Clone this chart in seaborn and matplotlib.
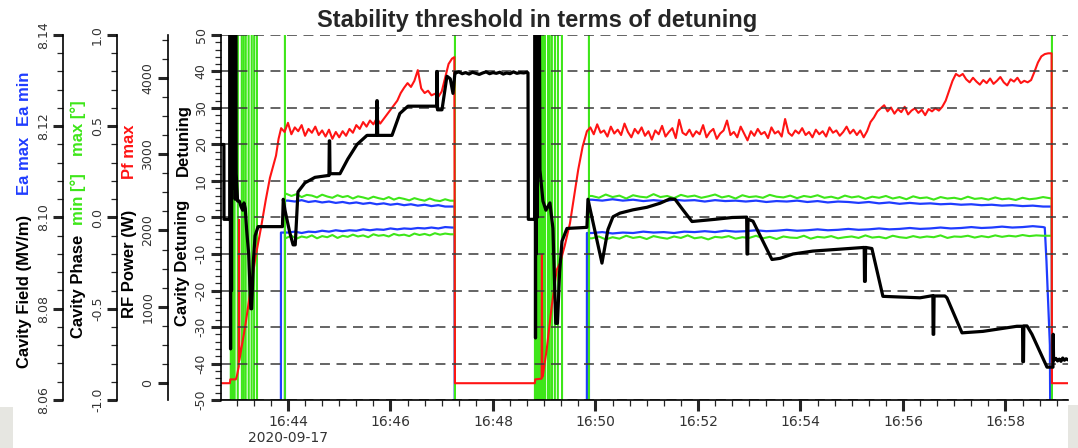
import numpy as np
import pandas as pd
import matplotlib
matplotlib.use('Agg')
import matplotlib.pyplot as plt
import matplotlib.dates as mdates
from matplotlib.ticker import MultipleLocator, FormatStrFormatter, FuncFormatter
from matplotlib.patches import Rectangle
import seaborn as sns

sns.set_style('ticks')
plt.rcParams['font.family'] = ['DejaVu Sans']
plt.rcParams['axes.unicode_minus'] = False

# all times are seconds after 16:40:00 on the day of the run
t_base = pd.Timestamp('2020-09-17 16:40:00')
t_start, t_end = 161.6, 1153.2

# ---------------- Cavity detuning (black) ----------------
det_t1 = [161.6, 165, 165.1, 172, 172.3, 172.8, 173.3, 173.9, 174.4, 175.0, 175.5, 176.1, 176.6,
          177.2, 177.7, 178.3, 178.8, 179.4, 181, 183, 185, 187, 188.5, 190, 191.5, 194, 196.5,
          197.5, 199.5, 201.5, 205, 233.5, 234.5, 236.5, 242, 246, 248.5, 251.7, 259.9, 271.6,
          286.8, 288, 288.4, 288.8, 289.2, 300.9, 310, 320.8, 332.5, 343.7, 344.1, 344.5, 345,
          361.8, 371, 380.5, 414, 414.3, 414.7, 415.1, 420.3, 426.1, 430, 433.2, 435.5]
det_v1 = [20, 20, -0.5, -0.5, 60, -36, 60, -20, 60, 10, 60, 15, 60,
          8, 60, 5, 60, 12, 4.5, 4.5, 3, 2, 4, 2.5, -3, -10, -25,
          -25, -12, -5, -2.5, -2.5, 5, 2, -4, -7.5, -7.5, 7, 9.5, 11,
          11.5, 11.5, 21, 21, 12, 12, 16, 20, 22.5, 22.5, 32, 32, 22.5,
          22.5, 28.5, 30.5, 30.5, 40, 40, 29.5, 29.5, 38.7, 38, 34, 39.7]
# plateau between the two runs, every 4 s from 436 s
det_top = [39.6, 39.9, 39.4, 39.7, 39.3, 39.8, 39.5, 39.2, 39.6, 39.9, 39.4,
           39.7, 39.5, 39.8, 39.3, 39.6, 39.4, 39.9, 39.5, 39.7, 39.6, 39.8]
det_t2 = [521, 521.4, 529, 529.4, 529.8, 530.2, 530.7, 531.2, 531.7, 532.2, 532.7, 533.2, 533.7,
          534.3, 535, 538.5, 542, 546.7, 550.2, 553.5, 555.5, 558, 560.8, 566.6, 590, 591.2,
          607.6, 614.6, 620.5, 628.7, 643.9, 660.3, 675.5, 687.2, 693.1, 702.4, 713, 740, 760,
          777, 777.4, 778.2, 778.6, 784.4, 806.6, 816, 831.2, 854.6, 878, 913.1, 914.6, 915,
          915.8, 916.3, 923.6, 936.5, 960, 980, 995, 995.3, 996, 996.4, 1009.1, 1011.5, 1029.1,
          1053.6, 1073.5, 1093.4, 1100, 1100.3, 1101.1, 1101.5, 1105.2, 1111, 1128.6, 1135.6,
          1135.9, 1136.3]
det_v2 = [39.6, -0.5, -0.5, 60, -33, 60, -10, 60, 0, 60, 20, 60, 13,
          60, 13, 4.5, 2, 4, -3, -29, -29, -15, -6.5, -3, -2.7, 5,
          -12.5, -3.3, 0.2, 1.2, 2.1, 2.8, 3.9, 5.1, 5.0, 2.1, -1.1, -0.5, 0,
          0.1, -10, -10, -0.5, -1, -11.5, -11.2, -10, -9.2, -8.8, -8.2, -8.2, -17.5,
          -17.5, -8.2, -8.5, -21.6, -21.8, -22, -21.4, -32, -32, -21.5, -21.5, -22, -31.6,
          -31.2, -30.5, -29.8, -29.8, -39.5, -39.5, -29.7, -29.7, -32, -41, -41,
          -32, -39]
# tail, every 2 s from 1137 s
det_end = [-39.0, -38.6, -39.3, -38.8, -39.4, -38.5, -39.1, -38.7, -39.0]

# ---------------- Forward power Pf max (red, W) ----------------
pf_t1 = [161.6, 172, 172.5, 179, 180.3, 182.4, 182.7, 183.1, 190, 196.7, 202, 208.4, 214,
         218.9, 226, 229]
pf_v1 = [0, 0, 50, 50, 100, 220, 2140, 300, 750, 1260, 1650, 2035, 2400,
         2690, 2980, 3200]
# first run, every 4 s from 232 s
pf_run1 = [3340, 3290, 3410, 3260, 3350, 3300, 3380, 3240, 3330, 3280,
           3360, 3250, 3310, 3230, 3320, 3200, 3290, 3220, 3300, 3240,
           3330, 3280, 3380, 3330, 3420, 3360, 3440, 3390, 3470, 3400,
           3460, 3520, 3580, 3640, 3700, 3800, 3870, 3930, 3880, 3960,
           4100, 3860, 3800, 3830, 3770, 3790, 3750, 3820, 4000, 4180,
           4250]
pf_t2 = [434.8, 435.5, 529, 529.5, 537, 537.3, 537.7, 538.5, 543, 548.7, 554.6, 558.4, 564,
         570.1, 575, 579.8, 585]
pf_v2 = [4270, 0, 0, 50, 60, 1685, 80, 106, 450, 1001, 1484, 1570, 1800,
         2092, 2450, 2796, 3100]
# second run, every 4 s from 590 s
pf_run2 = [3300, 3350, 3260, 3390, 3280, 3310, 3230, 3360, 3270, 3320,
           3250, 3400, 3290, 3220, 3330, 3270, 3350, 3240, 3300, 3190,
           3310, 3260, 3370, 3230, 3290, 3340, 3210, 3450, 3280, 3250,
           3320, 3230, 3300, 3260, 3380, 3220, 3290, 3330, 3200, 3270,
           3310, 3440, 3250, 3290, 3220, 3360, 3270, 3180, 3300, 3240,
           3330, 3260, 3290, 3210, 3350, 3270, 3300, 3230, 3460, 3280,
           3240, 3310, 3270, 3340, 3250, 3290, 3220, 3320, 3260, 3300,
           3230, 3350, 3280, 3310, 3240, 3290, 3360, 3270, 3320, 3250,
           3310, 3220, 3300, 3420, 3480, 3560, 3600, 3640, 3560, 3610,
           3530, 3590, 3550, 3620, 3520, 3570, 3600, 3540, 3580, 3510,
           3590, 3560, 3600, 3570, 3620, 3700, 3830, 3960, 4050, 4020,
           4050, 3980, 3940, 4000, 3950, 3910, 3970, 3930, 3990, 3920,
           3960, 4010, 3940, 3900, 3980, 3950, 4000, 3930, 3960, 3940,
           3970, 4080, 4200, 4280, 4310, 4320, 4320]
pf_t3 = [1134.4, 1153.2]
pf_v3 = [0, 0]

# ---------------- Cavity field Ea max / Ea min (blue, MV/m) ----------------
# 8.0 = below the scale (field off)
ea_max_run1 = [8.1037, 8.1035, 8.1038, 8.1034, 8.1036, 8.1033, 8.1035, 8.1032, 8.1034, 8.1031,
               8.1033, 8.1030, 8.1032, 8.1029, 8.1031, 8.1028, 8.1030, 8.1027, 8.1029, 8.1026,
               8.1028, 8.1025, 8.1027, 8.1024, 8.1024]
ea_min_run1 = [8.0967, 8.0969, 8.0966, 8.0969, 8.0968, 8.0971, 8.0969, 8.0972, 8.0970, 8.0972,
               8.0971, 8.0974, 8.0972, 8.0974, 8.0973, 8.0976, 8.0974, 8.0976, 8.0975, 8.0977,
               8.0976, 8.0978, 8.0976, 8.0979, 8.0978]
ea_max_run2 = [8.1039, 8.1037, 8.1040, 8.1037, 8.1039, 8.1036, 8.1038, 8.1036, 8.1039, 8.1037,
               8.1038, 8.1035, 8.1038, 8.1036, 8.1037, 8.1035, 8.1037, 8.1034, 8.1036, 8.1035,
               8.1037, 8.1034, 8.1036, 8.1033, 8.1035, 8.1034, 8.1032, 8.1034, 8.1031, 8.1033,
               8.1030, 8.1032, 8.1030, 8.1031, 8.1029, 8.1030, 8.1028, 8.1029, 8.1027, 8.1028,
               8.1026, 8.1027, 8.1025, 8.1026, 8.1024]
ea_min_run2 = [8.0966, 8.0968, 8.0965, 8.0967, 8.0966, 8.0969, 8.0967, 8.0968, 8.0966, 8.0969,
               8.0968, 8.0970, 8.0968, 8.0971, 8.0969, 8.0970, 8.0972, 8.0970, 8.0971, 8.0973,
               8.0971, 8.0972, 8.0974, 8.0972, 8.0973, 8.0975, 8.0973, 8.0974, 8.0976, 8.0974,
               8.0975, 8.0977, 8.0975, 8.0976, 8.0978, 8.0976, 8.0977, 8.0979, 8.0977, 8.0978,
               8.0980, 8.0978, 8.0979, 8.0981, 8.0979]
ea_max_edges_t = [[161.6, 236.4, 236.5], [435.3, 435.6, 592.3, 592.4], [1134.2, 1134.5, 1153.2]]
ea_max_edges_v = [[8.0, 8.0, 8.1037], [8.1024, 8.0, 8.0, 8.1039], [8.1024, 8.0, 8.0]]
ea_min_edges_t = [[161.6, 231.7, 231.8], [435.3, 435.6, 589.9, 590.0], [1126, 1128, 1132, 1133.8, 1153.2]]
ea_min_edges_v = [[8.0, 8.0, 8.0967], [8.0978, 8.0, 8.0, 8.0966], [8.0978, 8.0904, 8.072, 8.0, 8.0]]

# ---------------- Cavity phase min / max (green, deg) ----------------
# +/-1.5 = off the scale (the phase swings while the loop locks)
ph_max_pre_t = [161.6, 172.9, 173.1, 174.9, 175.1, 177.4, 177.6, 181.2, 181.4, 185.9, 186.1, 190.4,
                190.6, 193.9, 194.1, 197.4, 197.6, 203.6, 203.8, 236.4, 236.5]
ph_max_pre_v = [1.5, 1.5, -1.5, -1.5, 1.5, 1.5, -1.5, -1.5, 1.5, 1.5, -1.5, -1.5,
                1.5, 1.5, -1.5, -1.5, 1.5, 1.5, -1.5, -1.5, 0.125]
ph_min_pre_t = [161.6, 176.1, 176.3, 188.1, 188.3, 200.3, 200.5, 236.4, 236.5]
ph_min_pre_v = [-1.5, -1.5, 1.5, 1.5, -1.5, -1.5, 1.5, 1.5, -0.112]
ph_max_run1 = [0.130, 0.118, 0.128, 0.112, 0.124, 0.120, 0.110, 0.125, 0.115, 0.108, 0.122,
               0.112, 0.118, 0.104, 0.116, 0.110, 0.102, 0.114, 0.106, 0.100, 0.112, 0.098,
               0.108, 0.102, 0.094, 0.106, 0.098, 0.092, 0.104, 0.094, 0.090, 0.100, 0.092]
ph_min_run1 = [-0.112, -0.100, -0.116, -0.104, -0.110, -0.098, -0.114, -0.102, -0.108, -0.096, -0.112,
               -0.100, -0.106, -0.094, -0.104, -0.098, -0.108, -0.092, -0.100, -0.096, -0.104, -0.090,
               -0.098, -0.094, -0.102, -0.088, -0.096, -0.090, -0.098, -0.086, -0.094, -0.088, -0.092]
ph_max_mid_t = [435.3, 435.6, 529.1, 529.3, 530.7, 530.9, 532.3, 532.5, 533.9, 534.1, 535.5, 535.7,
                537.1, 537.3, 538.7, 538.9, 540.8, 541.0, 544.3, 544.5, 548.9, 549.1, 552.4, 552.6,
                560.7, 560.9, 592.3, 592.4]
ph_max_mid_v = [0.092, -1.5, -1.5, 1.5, 1.5, -1.5, -1.5, 1.5, 1.5, -1.5, -1.5, 1.5,
                1.5, -1.5, -1.5, 1.5, 1.5, -1.5, -1.5, 1.5, 1.5, -1.5, -1.5, 1.5,
                1.5, -1.5, -1.5, 0.118]
ph_min_mid_t = [435.3, 435.6, 531.5, 531.7, 536.3, 536.5, 546.4, 546.6, 555.9, 556.1, 592.3, 592.4]
ph_min_mid_v = [-0.092, 1.5, 1.5, -1.5, -1.5, 1.5, 1.5, -1.5, -1.5, 1.5, 1.5, -0.114]
ph_max_run2 = [0.118, 0.108, 0.126, 0.112, 0.120, 0.104, 0.122, 0.114, 0.110, 0.128,
               0.112, 0.118, 0.106, 0.124, 0.114, 0.120, 0.108, 0.116, 0.126, 0.110,
               0.118, 0.104, 0.122, 0.112, 0.116, 0.108, 0.124, 0.114, 0.110, 0.120,
               0.106, 0.118, 0.112, 0.122, 0.108, 0.114, 0.104, 0.120, 0.110, 0.116,
               0.102, 0.114, 0.108, 0.118, 0.104, 0.112, 0.100, 0.116, 0.106, 0.110,
               0.098, 0.112, 0.104, 0.108, 0.100, 0.114, 0.102, 0.106, 0.098, 0.110,
               0.100, 0.104, 0.096, 0.108, 0.100, 0.104, 0.112]
ph_min_run2 = [-0.114, -0.104, -0.120, -0.108, -0.116, -0.100, -0.112, -0.106, -0.118, -0.102,
               -0.110, -0.116, -0.104, -0.112, -0.098, -0.114, -0.108, -0.120, -0.106, -0.110,
               -0.102, -0.116, -0.108, -0.112, -0.100, -0.114, -0.106, -0.118, -0.104, -0.110,
               -0.112, -0.100, -0.116, -0.106, -0.110, -0.102, -0.114, -0.108, -0.104, -0.112,
               -0.098, -0.110, -0.106, -0.114, -0.100, -0.108, -0.112, -0.102, -0.110, -0.104,
               -0.108, -0.098, -0.112, -0.104, -0.106, -0.100, -0.110, -0.102, -0.108, -0.098,
               -0.106, -0.100, -0.104, -0.096, -0.102, -0.098, -0.100]
ph_max_end_t = [1134.2, 1134.5, 1153.2]
ph_max_end_v = [0.104, -1.5, -1.5]
ph_min_end_t = [1134.2, 1134.5, 1153.2]
ph_min_end_v = [-0.100, 1.5, 1.5]


def sampled(t0, step, vals):
    # time stamps of a regularly sampled stretch of the archive
    return [t0 + i * step for i in range(len(vals))]


def to_num(sec):
    return mdates.date2num(t_base + pd.to_timedelta(np.asarray(sec, dtype=float), unit='s'))


det_t = det_t1 + sampled(436, 4, det_top) + det_t2 + sampled(1137, 2, det_end)
det_v = det_v1 + det_top + det_v2 + det_end
pf_t = pf_t1 + sampled(232, 4, pf_run1) + pf_t2 + sampled(590, 4, pf_run2) + pf_t3
pf_v = pf_v1 + pf_run1 + pf_v2 + pf_run2 + pf_v3
ea_max_t = (ea_max_edges_t[0] + sampled(240, 8, ea_max_run1) + ea_max_edges_t[1]
            + sampled(596, 12, ea_max_run2) + ea_max_edges_t[2])
ea_max_v = ea_max_edges_v[0] + ea_max_run1 + ea_max_edges_v[1] + ea_max_run2 + ea_max_edges_v[2]
ea_min_t = (ea_min_edges_t[0] + sampled(240, 8, ea_min_run1) + ea_min_edges_t[1]
            + sampled(596, 12, ea_min_run2) + ea_min_edges_t[2])
ea_min_v = ea_min_edges_v[0] + ea_min_run1 + ea_min_edges_v[1] + ea_min_run2 + ea_min_edges_v[2]
ph_max_t = ph_max_pre_t + sampled(238, 6, ph_max_run1) + ph_max_mid_t + sampled(596, 8, ph_max_run2) + ph_max_end_t
ph_max_v = ph_max_pre_v + ph_max_run1 + ph_max_mid_v + ph_max_run2 + ph_max_end_v
ph_min_t = ph_min_pre_t + sampled(238, 6, ph_min_run1) + ph_min_mid_t + sampled(596, 8, ph_min_run2) + ph_min_end_t
ph_min_v = ph_min_pre_v + ph_min_run1 + ph_min_mid_v + ph_min_run2 + ph_min_end_v

BLACK, RED, BLUE, GREEN = '#000000', '#ff1414', '#1f3cff', '#3ee619'
LABEL_FONT = dict(family=['Liberation Sans', 'DejaVu Sans'], fontsize=12, fontweight='bold')

W, H = 1078, 448
fig = plt.figure(figsize=(W / 100, H / 100), dpi=100)
fig.patch.set_facecolor('white')
ax = fig.add_axes([221 / W, 48 / H, 847 / W, 365 / H])   # detuning, carries the time axis
ax_ph = ax.twinx()
ax_ea = ax.twinx()
ax_pf = ax.twinx()

# stacking: field at the bottom, then phase, power, detuning on top
for a, z in [(ax_ea, 0), (ax_ph, 1), (ax_pf, 2), (ax, 3)]:
    a.set_zorder(z)
    a.patch.set_visible(False)

sns.lineplot(x=to_num(ph_max_t), y=ph_max_v, ax=ax_ph, color=GREEN, linewidth=1.5, estimator=None, sort=False)
sns.lineplot(x=to_num(ph_min_t), y=ph_min_v, ax=ax_ph, color=GREEN, linewidth=1.5, estimator=None, sort=False)
sns.lineplot(x=to_num(ea_max_t), y=ea_max_v, ax=ax_ea, color=BLUE, linewidth=1.6, estimator=None, sort=False)
sns.lineplot(x=to_num(ea_min_t), y=ea_min_v, ax=ax_ea, color=BLUE, linewidth=1.6, estimator=None, sort=False)
sns.lineplot(x=to_num(pf_t), y=pf_v, ax=ax_pf, color=RED, linewidth=1.5, estimator=None, sort=False)
sns.lineplot(x=to_num(det_t), y=det_v, ax=ax, color=BLACK, linewidth=2.3, estimator=None, sort=False)

ax.set_xlim(to_num([t_start, t_end]))
ax.set_ylim(-50, 50)
ax_ph.set_ylim(-1.0, 1.0)
ax_ea.set_ylim(8.06, 8.14)
ax_pf.set_ylim(-220, 4560)

# y axes all on the left, stepped outwards
axis_specs = [
    (ax, 0.0, 10, 2, '%d'),
    (ax_pf, -0.0629, 1000, 250, '%d'),
    (ax_ph, -0.1224, 0.5, 0.1, '%.1f'),
    (ax_ea, -0.1862, 0.02, 0.004, '%.2f'),
]
for a, pos, major, minor, fmt in axis_specs:
    for s in a.spines.values():
        s.set_visible(False)
    a.spines['left'].set_visible(True)
    a.spines['left'].set_position(('axes', pos))
    a.spines['left'].set_linewidth(1.2)
    a.spines['left'].set_color('black')
    a.yaxis.set_ticks_position('left')
    a.yaxis.set_major_locator(MultipleLocator(major))
    a.yaxis.set_minor_locator(MultipleLocator(minor))
    a.yaxis.set_major_formatter(FormatStrFormatter(fmt))
    a.tick_params(axis='y', which='major', direction='out', length=7.5, width=2.2,
                  labelsize=9, labelcolor='#333333', labelrotation=90, pad=2)
    a.tick_params(axis='y', which='minor', direction='out', length=4.5, width=0.9)
    a.set_ylabel('')
    a.set_xlabel('')

ax.spines['bottom'].set_visible(True)
ax.spines['bottom'].set_linewidth(1.2)
ax.spines['bottom'].set_color('black')

x_first = to_num([t_start])[0]


def time_label(x, pos):
    d = mdates.num2date(x)
    lab = d.strftime('%H:%M')
    if x - 2 / 1440 < x_first:
        lab += '\n' + d.strftime('%Y-%m-%d')
    return lab


ax.xaxis.set_major_locator(mdates.MinuteLocator(byminute=range(0, 60, 2)))
ax.xaxis.set_minor_locator(mdates.SecondLocator(bysecond=[0, 20, 40]))
ax.xaxis.set_major_formatter(FuncFormatter(time_label))
ax.tick_params(axis='x', which='major', direction='out', length=8, width=2.2,
               labelsize=10, labelcolor='#333333', pad=3)
ax.tick_params(axis='x', which='minor', direction='out', length=4.5, width=0.9)

ax.yaxis.grid(True, which='major', linestyle=(0, (6.5, 4.3)), color='#3a3a3a', linewidth=1.1)
ax.xaxis.grid(False)

for a, _, _, _, _ in axis_specs:
    plt.setp(a.get_yticklabels(), va='center')

# multi-coloured axis titles, one column per y axis
label_parts = [
    (25, 291, 'Cavity Field (MV/m)', BLACK), (25, 166, 'Ea max', BLUE), (25, 98.5, 'Ea min', BLUE),
    (78, 286.5, 'Cavity Phase', BLACK), (78, 199.5, 'min [°]', GREEN), (78, 128, 'max [°]', GREEN),
    (129.5, 263.5, 'RF Power (W)', BLACK), (129.5, 151.5, 'Pf max', RED),
    (183, 262.5, 'Cavity Detuning', BLACK), (183, 140, 'Detuning', BLACK),
]
for px, py, txt, col in label_parts:
    fig.text(px / W, 1 - py / H, txt, color=col, rotation=90, ha='center', va='center', **LABEL_FONT)

fig.text(537.5 / W, 1 - 20 / H, 'Stability threshold in terms of detuning', ha='center', va='center',
         family=['Liberation Sans', 'DejaVu Sans'], fontsize=17, fontweight='bold')

# light grey window corners seen in the screenshot
fig.add_artist(Rectangle((0, 0), 13 / W, 41 / H, transform=fig.transFigure, color='#e6e6e1', lw=0))
fig.add_artist(Rectangle((1068 / W, 0), 10 / W, 43 / H, transform=fig.transFigure, color='#e6e6e1', lw=0))

fig.savefig('out.png', dpi=100)
